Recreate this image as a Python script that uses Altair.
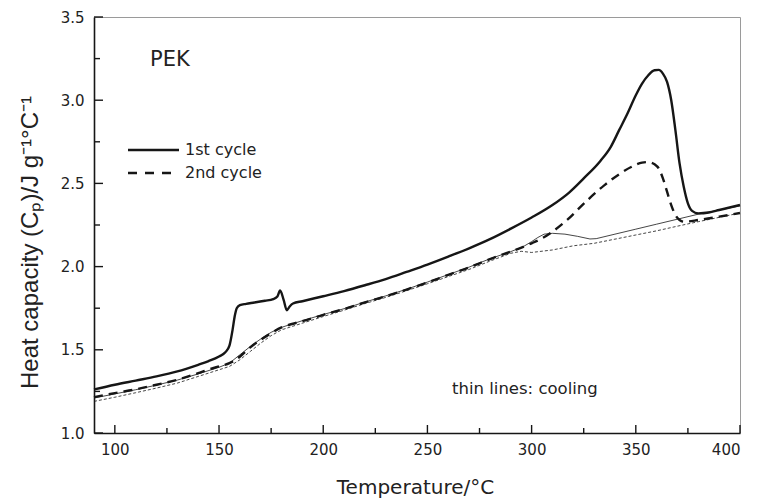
import altair as alt
import pandas as pd

# ---------------- data ----------------
# 1st cycle, heating (thick solid)
T_h1 = [90, 100, 110, 120, 130, 140, 145, 150, 153, 155, 156.5, 157.5, 158.5, 160, 163,
        167, 172, 176, 178, 179.3, 181, 182.5, 184, 185.5, 190, 200, 210, 220, 230, 240,
        250, 260, 270, 280, 290, 300, 310, 318, 325, 333, 338, 342, 346, 350, 353, 356, 359,
        361, 363, 365, 367, 369, 371, 373, 375, 377, 380, 385, 390, 395, 400]
C_h1 = [1.262, 1.29, 1.315, 1.340, 1.37, 1.41, 1.432, 1.46, 1.485, 1.525, 1.62, 1.70, 1.75,
        1.768, 1.776, 1.784, 1.795, 1.805, 1.82, 1.856, 1.80, 1.738, 1.762, 1.778, 1.792,
        1.822, 1.853, 1.888, 1.925, 1.968, 2.012, 2.06, 2.11, 2.165, 2.228, 2.295, 2.37,
        2.445, 2.53, 2.635, 2.72, 2.82, 2.92, 3.03, 3.10, 3.15, 3.18, 3.182, 3.16, 3.11,
        3.0, 2.82, 2.62, 2.48, 2.38, 2.335, 2.32, 2.325, 2.34, 2.355, 2.37]

# 2nd cycle, heating (thick dashed)
T_h2 = [90, 100, 110, 120, 130, 140, 145, 150, 155, 158, 161, 165, 170, 175, 180, 185, 190,
        200, 210, 220, 230, 240, 250, 260, 270, 280, 290, 300, 305, 310, 317, 326, 335, 342,
        348, 353, 356, 359, 361, 363, 365, 367, 369, 371, 373, 380, 390, 400]
C_h2 = [1.215, 1.24, 1.262, 1.29, 1.32, 1.36, 1.382, 1.40, 1.42, 1.44, 1.47, 1.515, 1.56,
        1.60, 1.635, 1.655, 1.672, 1.71, 1.745, 1.785, 1.822, 1.862, 1.905, 1.95, 1.995,
        2.045, 2.09, 2.14, 2.17, 2.21, 2.28, 2.39, 2.49, 2.555, 2.60, 2.625, 2.628, 2.615,
        2.59, 2.53, 2.45, 2.37, 2.31, 2.28, 2.27, 2.28, 2.30, 2.322]

# 1st cycle, cooling (thin solid)
T_c1 = [90, 100, 110, 120, 130, 140, 150, 155, 160, 165, 170, 175, 180, 190, 200, 210, 220,
        230, 240, 250, 260, 270, 280, 290, 296, 300, 303, 306, 310, 316, 322, 328, 331, 340,
        350, 360, 370, 380, 390, 400]
C_c1 = [1.21, 1.235, 1.26, 1.288, 1.318, 1.355, 1.395, 1.42, 1.47, 1.52, 1.565, 1.605, 1.635,
        1.675, 1.712, 1.747, 1.787, 1.824, 1.864, 1.907, 1.952, 1.997, 2.047, 2.09, 2.12,
        2.15, 2.175, 2.195, 2.2, 2.195, 2.182, 2.166, 2.168, 2.195, 2.225, 2.255, 2.285,
        2.315, 2.34, 2.365]

# 2nd cycle, cooling (thin short-dashed)
T_c2 = [90, 100, 110, 120, 130, 140, 150, 155, 160, 165, 170, 175, 180, 190, 200, 210, 220,
        230, 240, 250, 260, 270, 280, 290, 295, 300, 310, 320, 330, 340, 350, 360, 370, 380,
        390, 400]
C_c2 = [1.19, 1.215, 1.242, 1.27, 1.30, 1.34, 1.38, 1.40, 1.44, 1.49, 1.54, 1.585, 1.62,
        1.66, 1.70, 1.738, 1.778, 1.815, 1.855, 1.897, 1.94, 1.983, 2.033, 2.08, 2.092,
        2.085, 2.10, 2.125, 2.14, 2.165, 2.19, 2.215, 2.243, 2.27, 2.296, 2.322]

x_major = [100, 150, 200, 250, 300, 350, 400]
x_minor = [125, 175, 225, 275, 325, 375]
y_major = [1.0, 1.5, 2.0, 2.5, 3.0, 3.5]
y_minor = [1.25, 1.75, 2.25, 2.75, 3.25]

legend_labels = ["1st cycle", "2nd cycle"]
note_pek = "PEK"
note_cool = "thin lines: cooling"

# ---------------- chart ----------------
W, H = 646, 416
FONT = "DejaVu Sans"
YFONT = "Liberation Sans"
INK = "#161616"
TXT = "#222222"

xs = alt.Scale(domain=[90, 400], nice=False, zero=False)
ys = alt.Scale(domain=[1.0, 3.5], nice=False, zero=False)

x_axis = alt.Axis(values=x_major, format="d", tickSize=0, grid=False,
                  labelFontSize=15, labelPadding=9, labelFont=FONT, labelColor=TXT,
                  domainColor=INK, domainWidth=1.6,
                  title="Temperature/°C", titleFontSize=20, titleFont=FONT,
                  titleFontWeight="normal", titleColor=TXT,
                  titleX=321, titleY=54, titleBaseline="middle", titleAlign="center")
y_axis = alt.Axis(values=y_major, format=".1f", tickSize=0, grid=False,
                  labelFontSize=15, labelPadding=10, labelFont=FONT, labelColor=TXT,
                  domainColor=INK, domainWidth=1.6,
                  title="Heat capacity (Cₚ)/J g⁻¹°C⁻¹", titleFontSize=24, titleFont=YFONT,
                  titleFontWeight="normal", titleColor=TXT,
                  titleAngle=270, titleX=-64, titleY=225, titleBaseline="middle",
                  titleAlign="center")


def X(field="T"):
    return alt.X(f"{field}:Q", scale=xs, axis=x_axis)


def Y(field="Cp"):
    return alt.Y(f"{field}:Q", scale=ys, axis=y_axis)


def line(T, C, width, dash=None, interp="linear"):
    df = pd.DataFrame({"T": T, "Cp": C, "i": list(range(len(T)))})
    kw = dict(strokeWidth=width, color=INK, strokeJoin="round", interpolate=interp)
    if dash:
        kw["strokeDash"] = dash
    return alt.Chart(df).mark_line(**kw).encode(x=X(), y=Y(), order="i:Q")


l_c2 = line(T_c2, C_c2, 0.8, [3, 2])
l_c1 = line(T_c1, C_c1, 0.8)
l_h2 = line(T_h2, C_h2, 2.4, [9, 6], "monotone")
l_h1 = line(T_h1, C_h1, 2.4, None, "monotone")

xt_maj = alt.Chart(pd.DataFrame({"T": x_major})).mark_rule(color=INK, strokeWidth=1.4).encode(
    x=X(), y=alt.value(H), y2=alt.value(H - 8))
xt_min = alt.Chart(pd.DataFrame({"T": x_minor})).mark_rule(color=INK, strokeWidth=1.4).encode(
    x=X(), y=alt.value(H), y2=alt.value(H - 5))
yt_maj = alt.Chart(pd.DataFrame({"Cp": y_major})).mark_rule(color=INK, strokeWidth=1.4).encode(
    y=Y(), x=alt.value(0), x2=alt.value(9))
yt_min = alt.Chart(pd.DataFrame({"Cp": y_minor})).mark_rule(color=INK, strokeWidth=1.4).encode(
    y=Y(), x=alt.value(0), x2=alt.value(6))

one = pd.DataFrame({"k": [0]})
leg1 = alt.Chart(one).mark_rule(color=INK, strokeWidth=2.4).encode(
    x=alt.value(34), x2=alt.value(85), y=alt.value(133))
leg2 = alt.Chart(one).mark_rule(color=INK, strokeWidth=2.4, strokeDash=[9, 8]).encode(
    x=alt.value(34), x2=alt.value(85), y=alt.value(156))

txt_df = pd.DataFrame({"label": [legend_labels[0], legend_labels[1], note_pek, note_cool]})


def txt(idx, x, y, size):
    return alt.Chart(txt_df).transform_filter(
        alt.datum.label == txt_df["label"][idx]
    ).mark_text(align="left", baseline="middle", font=FONT, fontSize=size, color=TXT).encode(
        text="label:N", x=alt.value(x), y=alt.value(y))


t1 = txt(0, 91, 133, 16)
t2 = txt(1, 91, 156, 16)
t3 = txt(2, 56, 43, 21)
t4 = txt(3, 358, 372, 16.5)

chart = alt.layer(
    l_c2, l_c1, l_h2, l_h1, xt_maj, xt_min, yt_maj, yt_min, leg1, leg2, t1, t2, t3, t4
).properties(
    width=W, height=H,
    autosize=alt.AutoSizeParams(type="none"),
    padding={"left": 94, "top": 17, "right": 18, "bottom": 68},
    background="white",
).configure_view(stroke="#9a9a9a", strokeWidth=1)

chart.save("out.html", embed_options={"renderer": "svg", "actions": False})
